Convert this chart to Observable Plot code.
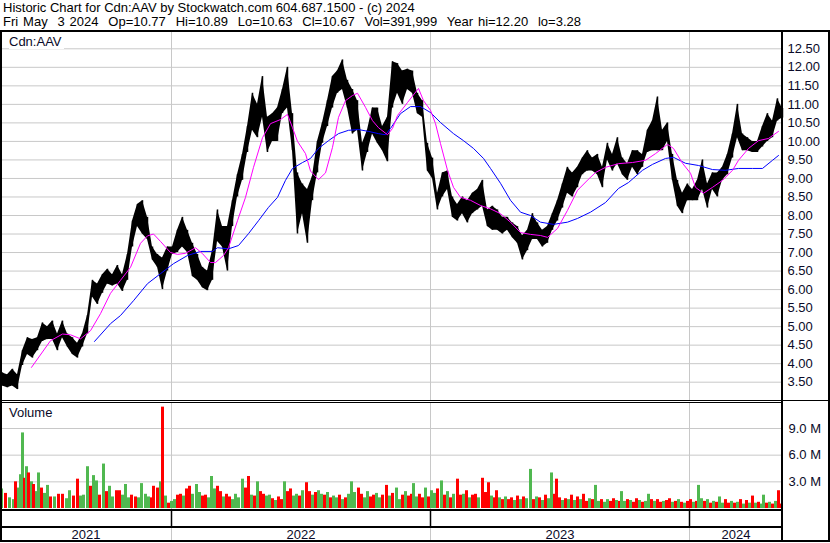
<!DOCTYPE html>
<html><head><meta charset="utf-8">
<script src="https://cdn.jsdelivr.net/npm/d3@7"></script>
<script src="https://cdn.jsdelivr.net/npm/@observablehq/plot@0.6"></script>
<style>
body{margin:0;background:#fff;font-family:"Liberation Sans",Arial,sans-serif;}
#root{position:relative;width:830px;height:543px;overflow:hidden;background:#fff;}
.ln{position:absolute;background:#000;}
.abs{position:absolute;white-space:pre;color:#000;}
.plot{position:absolute;left:0;}
</style></head><body><div id="root"></div>
<script>
// ---------- DATA ----------
const titleLine = "Historic Chart for Cdn:AAV by Stockwatch.com 604.687.1500 - (c) 2024";
const infoLine = "Fri May  3 2024  Op=10.77  Hi=10.89  Lo=10.63  Cl=10.67  Vol=391,999  Year hi=12.20  lo=3.28";
const symbolLabel = "Cdn:AAV";
const volumeLabel = "Volume";

// trading-day index of the first day of each year, and year names
const yearStarts = [171, 430, 689];
const yearNames = ["2021", "2022", "2023", "2024"];
const lastDay = 782;

// price axis ticks and volume axis ticks (millions)
const priceTicks = [3.5, 4, 4.5, 5, 5.5, 6, 6.5, 7, 7.5, 8, 8.5, 9, 9.5, 10, 10.5, 11, 11.5, 12, 12.5];
const volTicks = [3, 6, 9];

// weekly high / low (one entry per 5 trading days, from day 0)
const weekHigh = [3.75,3.70,3.85,3.70,4.35,4.70,4.65,4.70,5.10,5.00,5.15,4.80,5.15,4.80,4.70,4.55,4.80,5.30,6.25,6.15,
6.40,6.55,6.40,6.65,6.40,6.95,7.85,8.30,8.40,7.95,7.15,6.95,6.85,7.15,7.15,7.60,7.95,7.60,7.25,6.95,
6.60,6.50,7.05,8.15,7.70,7.70,8.40,9.10,9.65,10.40,11.30,11.00,11.75,10.65,10.75,10.90,11.40,12.00,10.75,9.15,
8.85,8.70,9.05,10.00,10.50,11.10,11.75,11.90,12.20,11.65,11.40,11.10,9.95,10.30,10.90,10.90,10.40,10.65,12.15,12.10,
11.90,11.95,11.90,11.30,11.10,9.95,9.55,8.60,9.15,9.20,8.50,8.30,8.50,8.40,8.60,8.70,8.95,8.15,8.25,8.15,
7.95,7.95,7.80,7.70,7.45,7.60,8.05,7.80,7.60,7.70,8.05,8.40,8.85,9.30,9.15,9.30,9.55,9.75,9.55,9.65,
9.30,9.95,9.65,10.10,9.55,9.40,9.75,9.75,9.65,10.30,10.55,11.20,10.30,10.50,9.65,8.95,8.60,8.85,8.70,8.95,
9.50,8.85,9.15,9.15,9.30,9.65,10.20,11.00,10.20,10.10,10.00,10.00,10.40,10.75,10.55,11.15,10.89];
const weekLow = [3.40,3.35,3.40,3.30,3.95,4.25,4.15,4.35,4.60,4.65,4.65,4.35,4.70,4.45,4.25,4.15,4.45,4.80,5.80,5.60,
5.90,6.15,6.10,6.15,5.95,6.25,7.15,7.70,7.50,7.35,6.80,6.60,6.00,6.50,6.95,7.00,7.15,7.00,6.35,6.25,
6.05,5.97,6.25,7.30,7.15,6.50,7.70,8.50,8.95,9.70,10.30,10.10,10.65,9.70,10.00,10.00,10.75,10.90,9.75,7.50,
8.05,7.25,8.40,9.15,9.95,10.40,10.90,11.30,11.40,10.90,10.20,10.30,9.20,9.70,10.20,9.95,9.75,9.45,10.90,11.30,
11.00,11.40,11.30,10.75,10.65,9.20,9.00,8.15,8.50,8.70,7.95,7.85,8.05,7.80,8.05,8.15,8.25,7.70,7.60,7.60,
7.50,7.60,7.40,7.25,6.80,7.05,7.35,7.35,7.15,7.25,7.60,7.85,8.20,8.60,8.50,8.75,9.10,9.20,9.20,9.10,
8.75,9.50,9.20,9.40,9.10,8.95,9.30,9.10,9.30,9.70,9.75,9.75,9.75,10.00,8.95,8.25,8.05,8.40,8.40,8.40,
8.70,8.20,8.70,8.50,8.95,9.10,9.55,10.10,9.75,9.75,9.70,9.70,9.85,10.00,10.10,10.55,10.63];

// short moving average (magenta): day, value
const fastDays = [31,50,62,70,80,90,100,110,120,130,140,147,153,160,170,177,185,195,202,210,215,223,228,237,245,253,262,270,280,287,292,297,305,310,318,325,332,338,345,352,357,365,372,378,387,392,397,407,418,423,430,435,440,447,453,460,470,480,490,500,510,520,530,540,547,557,567,577,588,595,605,618,632,645,655,667,673,682,690,695,703,712,722,732,738,748,758,768,778];
const fastVals = [3.90,4.62,4.80,4.78,4.67,4.89,5.35,5.90,6.25,6.60,7.25,7.45,7.50,7.30,7.00,6.95,6.98,7.13,6.97,6.73,6.73,6.92,7.13,7.86,8.49,9.30,10.10,10.48,10.59,10.73,10.37,10.00,9.67,9.20,8.97,9.15,9.84,10.65,11.10,11.24,11.30,10.92,10.56,10.37,10.18,10.35,10.70,11.05,11.43,11.10,10.84,10.48,9.94,9.22,8.76,8.49,8.41,8.27,8.18,8.05,7.82,7.54,7.49,7.46,7.41,7.65,8.14,8.68,8.98,9.16,9.30,9.40,9.43,9.49,9.67,9.92,9.81,9.41,9.14,8.76,8.60,8.76,8.95,9.22,9.49,9.81,10.02,10.08,10.27];

// long moving average (blue): day, value
const slowDays = [94,110,120,133,147,160,173,187,200,212,217,228,238,248,258,268,277,285,292,302,310,318,328,338,348,358,368,378,385,390,400,410,420,430,440,453,463,473,483,490,500,510,520,530,540,553,567,577,590,605,618,628,642,652,665,673,685,698,712,725,738,752,762,772,778];
const slowVals = [4.60,5.08,5.30,5.70,6.16,6.43,6.70,6.92,7.03,7.03,7.13,7.10,7.19,7.51,7.86,8.22,8.49,8.95,9.27,9.43,9.54,9.81,10.02,10.21,10.30,10.32,10.27,10.21,10.18,10.35,10.75,10.94,10.94,10.78,10.51,10.21,10.02,9.81,9.54,9.27,8.87,8.41,8.09,8.00,7.82,7.76,7.82,7.92,8.09,8.35,8.73,8.89,9.22,9.38,9.54,9.57,9.41,9.35,9.24,9.22,9.27,9.27,9.27,9.49,9.62];

// volume (millions): day, value, up-day flag
const volDays = [0,4,8,12,14,17,19,21,23,25,27,30,32,35,37,40,43,46,49,53,57,61,65,68,72,76,79,82,86,89,92,95,98,102,105,108,111,115,118,121,124,127,130,134,137,140,144,147,150,152,156,159,161,164,167,170,173,176,179,182,185,188,191,195,198,201,204,207,210,213,216,219,222,225,228,231,234,237,241,244,247,250,253,256,259,262,265,268,271,274,277,280,283,286,289,292,295,298,301,305,308,311,314,317,320,323,326,329,332,335,338,341,344,347,350,353,357,360,363,366,369,372,375,378,381,385,388,391,395,398,401,404,407,410,412,415,418,421,424,427,430,433,436,440,443,446,449,452,456,459,462,465,468,471,474,477,481,484,487,490,493,495,498,501,504,507,510,513,516,519,522,525,529,532,535,538,541,544,547,550,553,555,558,561,564,567,570,573,576,579,582,585,588,591,594,597,600,603,606,609,612,615,618,620,623,626,629,632,635,638,641,644,647,650,653,656,659,662,665,668,671,674,677,680,683,686,689,692,695,697,700,703,706,709,712,715,718,721,724,727,730,733,736,739,742,745,748,751,754,757,760,762,765,768,771,774,777,780];
const volM = [2.2,1.7,1.2,1.0,3.0,2.3,3.8,8.5,3.4,4.7,4.0,3.0,2.7,1.9,4.0,2.3,1.7,2.6,1.3,1.3,1.6,1.6,1.1,2.0,1.4,3.3,1.4,1.5,4.7,2.5,3.7,3.1,1.5,5.0,1.9,2.5,1.3,2.0,2.0,1.5,2.7,1.2,1.5,1.3,1.2,2.8,1.6,1.3,1.2,2.5,2.3,3.0,11.4,1.4,0.6,0.8,1.0,1.5,1.6,1.4,2.2,2.5,1.6,2.7,1.8,1.4,1.5,1.2,3.6,2.2,2.5,1.9,1.3,1.6,1.3,1.0,1.6,1.2,3.3,2.3,3.6,1.5,1.4,3.0,1.9,1.6,1.4,1.5,1.1,0.9,1.3,1.0,3.0,1.9,2.2,1.4,1.6,1.4,2.0,2.9,1.9,1.5,1.8,2.0,1.6,1.5,1.8,1.2,1.4,1.2,1.5,1.0,1.2,1.6,3.0,1.8,2.3,1.6,1.2,1.9,1.3,1.5,1.7,1.2,1.5,2.6,1.4,1.7,2.3,1.0,1.5,1.9,1.4,1.6,2.8,1.3,1.6,1.2,2.3,1.3,2.0,1.7,2.2,3.1,1.5,1.9,1.2,1.6,3.3,1.5,1.6,2.0,1.2,1.5,1.6,1.2,3.4,1.8,2.9,1.4,1.2,2.0,1.2,1.0,1.3,1.0,1.2,0.9,1.4,1.0,1.3,1.1,4.4,1.0,1.3,1.2,0.9,1.5,1.1,4.0,1.6,3.3,1.2,0.9,1.1,1.0,1.5,0.9,1.3,1.0,1.6,0.8,1.1,1.0,2.6,0.8,1.0,0.7,1.0,0.8,1.1,0.9,0.8,1.9,0.8,1.0,0.9,0.7,1.1,0.9,0.7,0.8,1.6,1.0,0.8,1.0,0.7,0.8,0.9,1.1,0.7,0.8,1.0,0.7,0.6,0.8,1.0,0.7,0.8,2.6,1.1,0.8,1.0,0.6,0.8,0.7,1.3,0.6,1.0,0.6,0.8,0.6,0.7,1.0,0.5,0.9,0.6,1.4,0.6,0.7,0.5,1.5,0.6,0.7,0.5,0.8,2.0,0.5];
const volUp = [1,0,1,1,0,1,1,1,0,1,0,1,0,1,1,0,1,1,0,1,0,0,1,1,0,0,1,1,1,0,1,1,0,1,0,1,1,0,0,1,1,1,0,0,1,1,1,1,0,0,0,1,0,1,0,1,1,0,0,1,0,0,1,1,1,0,0,1,1,1,0,0,1,0,0,1,1,1,1,0,0,1,0,1,0,0,1,1,0,1,0,0,1,0,0,1,1,0,1,0,0,1,0,1,1,0,1,0,1,1,0,1,0,1,1,1,0,0,1,1,0,0,1,1,0,0,1,0,1,1,0,1,0,0,1,1,0,0,1,0,1,1,0,1,0,1,0,1,0,0,1,0,1,0,0,1,0,0,0,1,0,0,1,0,1,0,0,1,0,1,0,1,1,0,1,0,1,0,1,1,0,0,0,1,0,1,0,1,0,1,0,0,1,0,1,1,0,1,1,0,0,1,0,1,1,0,1,0,0,1,0,1,1,0,1,0,0,1,0,0,1,0,1,0,1,0,0,1,0,1,1,0,1,0,1,0,1,1,0,0,1,0,1,0,1,0,1,0,1,0,1,1,0,1,0,1,0,0];

// ---------- BUILD ----------
const font = '"Liberation Sans", Arial, sans-serif';
const gridColor = "#c8c8c8";
const textColor = "#0a0a28";
const upColor = "#50b850", downColor = "#ff0000";
const root = document.getElementById("root");

function el(cls, style, text) {
  const d = document.createElement("div");
  d.className = cls;
  Object.assign(d.style, style);
  if (text != null) d.textContent = text;
  root.appendChild(d);
  return d;
}

// header text
el("abs", {left: "3px", top: "1px", fontSize: "13px", lineHeight: "14px", fontFamily: font}, titleLine);
el("abs", {left: "3px", top: "15px", fontSize: "13px", lineHeight: "14px", fontFamily: font, wordSpacing: "1.3px"}, infoLine);

const bars = weekHigh.map((h, i) => ({d: i * 5 + 2, hi: h, lo: weekLow[i]}));
const fast = fastDays.map((d, i) => ({d, v: fastVals[i]}));
const slow = slowDays.map((d, i) => ({d, v: slowVals[i]}));
const vols = volDays.map((d, i) => ({d, v: volM[i], up: volUp[i]}));

const common = {
  width: 830, marginLeft: 0, marginRight: 48, marginTop: 0, marginBottom: 0,
  x: {domain: [0, lastDay], axis: null},
  style: {background: "transparent", fontFamily: font, color: textColor, overflow: "visible"}
};

// price panel
const pricePlot = Plot.plot({
  ...common,
  height: 368,
  y: {domain: [3.006, 12.94], axis: null},
  marks: [
    Plot.gridY(priceTicks, {stroke: gridColor, strokeOpacity: 1}),
    Plot.ruleX(yearStarts, {stroke: gridColor, strokeOpacity: 1}),
    Plot.axisY(priceTicks, {anchor: "right", label: null, tickSize: 0, tickPadding: 5, fontSize: 13, tickFormat: d => d.toFixed(2), fill: textColor}),
    Plot.areaY(bars, {x: "d", y1: "lo", y2: "hi", fill: "#000", curve: "linear"}),
    Plot.ruleX(bars, {x: "d", y1: "lo", y2: "hi", stroke: "#000", strokeWidth: 1.5}),
    Plot.line(slow, {x: "d", y: "v", stroke: "#0000ff", strokeWidth: 1}),
    Plot.line(fast, {x: "d", y: "v", stroke: "#ff00ff", strokeWidth: 1})
  ]
});
pricePlot.classList.add("plot");
pricePlot.style.top = "32px";
root.appendChild(pricePlot);

// volume panel
const volPlot = Plot.plot({
  ...common,
  height: 106,
  y: {domain: [-0.11, 11.81], axis: null},
  color: {type: "identity"},
  marks: [
    Plot.gridY(volTicks, {stroke: gridColor, strokeOpacity: 1}),
    Plot.ruleX(yearStarts, {stroke: gridColor, strokeOpacity: 1}),
    Plot.axisY(volTicks, {anchor: "right", label: null, tickSize: 0, tickPadding: 6, fontSize: 13, tickFormat: d => d.toFixed(1) + " M", fill: textColor}),
    Plot.rect(vols, {x1: "d", x2: d => d.d + 3, y1: 0, y2: "v", fill: d => d.up ? upColor : downColor})
  ]
});
volPlot.classList.add("plot");
volPlot.style.top = "403px";
root.appendChild(volPlot);

// date axis strip
const bounds = [0, ...yearStarts, lastDay];
const yearLabels = yearNames.map((name, i) => ({name, mid: (bounds[i] + bounds[i + 1]) / 2}));
const axisPlot = Plot.plot({
  ...common,
  height: 30,
  y: {domain: [0, 30], range: [0, 30], axis: null},
  marks: [
    Plot.ruleX(yearStarts, {y1: 0, y2: 15, stroke: "#000", strokeWidth: 1.5}),
    Plot.ruleX(yearStarts, {y1: 17, y2: 30, stroke: gridColor, strokeOpacity: 1}),
    Plot.text(yearLabels, {x: "mid", y: 23, text: "name", fontSize: 13, fill: textColor})
  ]
});
axisPlot.classList.add("plot");
axisPlot.style.top = "511px";
root.appendChild(axisPlot);

// panel labels
el("abs", {left: "9px", top: "34px", fontSize: "13px", fontFamily: font, color: textColor, background: "#fff", paddingRight: "2px"}, symbolLabel);
el("abs", {left: "9px", top: "405px", fontSize: "13px", fontFamily: font, color: textColor}, volumeLabel);

// frame lines
const L = (x, y, w, h) => el("ln", {left: x + "px", top: y + "px", width: w + "px", height: h + "px"});
L(0, 30, 830, 2);      // top of chart area
L(0, 30, 2, 512);      // left edge
L(828, 30, 2, 512);    // right edge
L(781, 30, 2, 512);    // axis divider
L(0, 400, 830, 1);     // price / volume separator
L(0, 402, 782, 1);
L(0, 509, 782, 2);     // bottom of volume panel
L(0, 526, 782, 2);     // date strip divider
L(0, 540, 830, 2);     // bottom edge
</script></body></html>
